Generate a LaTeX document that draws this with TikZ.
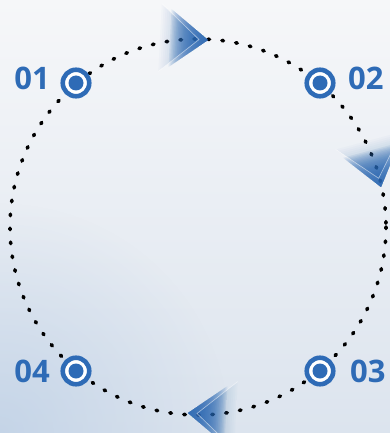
\documentclass[tikz,border=0pt]{standalone}
\usepackage{fontspec}
\setmainfont{Open Sans}
\usetikzlibrary{fadings}
\definecolor{mainblue}{HTML}{2E6BB6}
\definecolor{bgtop}{HTML}{F6F7F9}
\definecolor{bgmid}{HTML}{FBFCFD}
\definecolor{bgbot}{HTML}{DCE4EE}
\definecolor{glowblue}{HTML}{B8CCE4}
\tikzfading[name=glowfade, inner color=transparent!35, outer color=transparent!100]
\tikzset{
  ringpath/.style={line width=3.6pt, dash pattern=on 1.6pt off 12.4pt, line cap=round, black},
  marker/.style={circle, draw=mainblue, line width=4.6pt, fill=white, minimum size=26.5pt, inner sep=0pt},
  markerdot/.style={circle, fill=mainblue, minimum size=15pt, inner sep=0pt},
  numlabel/.style={text=mainblue, font=\bfseries\fontsize{31}{31}\selectfont, inner sep=0pt},
  pics/blurarrow/.style={code={
    % ghost copy
    \begin{scope}
      \clip (-9,0) -- (-48,34) -- (-48,-34) -- cycle;
      \foreach \i in {0,...,19} {
        \fill[mainblue, opacity=0.022] ({-48+\i*1.95},-36) rectangle (2,36);
      }
    \end{scope}
    % main arrow
    \begin{scope}
      \clip (0,0) -- (-38,29) -- (-38,-29) -- cycle;
      \foreach \i in {0,...,29} {
        \fill[mainblue, opacity=0.085] ({-38+\i*1.27},-31) rectangle (2,31);
      }
    \end{scope}
    \draw[white, opacity=0.55, line width=0.6pt] (-48,34) -- (-9,0) -- (-48,-34);
  }}
}
\begin{document}
\begin{tikzpicture}[x=1pt, y=-1pt]
\useasboundingbox (0,0) rectangle (390,433);
% background
\shade[top color=bgtop, middle color=bgmid, bottom color=bgbot] (0,0) rectangle (390,433);
\fill[glowblue, path fading=glowfade] (0,433) circle (230);
\clip (0,0) rectangle (390,433);
% dotted circle
\coordinate (c) at (198,227);
\draw[ringpath] (c) circle (188);
% arrows
\pic[rotate=-3] at (208,40) {blurarrow};
\pic[rotate=-75] at (381,187) {blurarrow};
\pic[rotate=177] at (188,413) {blurarrow};
% markers
\node[marker] (m1) at (76,83) {};
\node[marker] (m2) at (320,83) {};
\node[marker] (m3) at (320,371) {};
\node[marker] (m4) at (76,371) {};
\foreach \m in {m1,m2,m3,m4} \node[markerdot] at (\m) {};
% labels
\node[numlabel, anchor=east] (l1) at (50,78) {01};
\node[numlabel, anchor=west] (l2) at (348,78) {02};
\node[numlabel, anchor=west] (l3) at (350,371) {03};
\node[numlabel, anchor=east] (l4) at (50,371) {04};
\end{tikzpicture}
\end{document}
